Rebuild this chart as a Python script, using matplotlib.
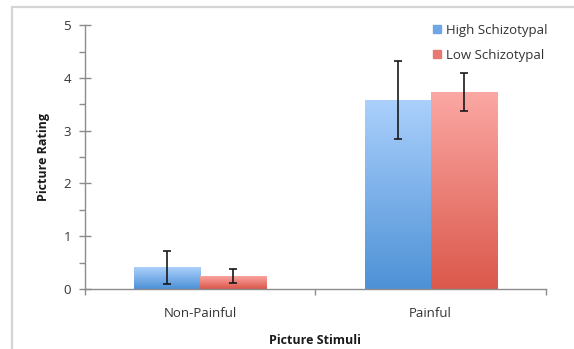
import numpy as np
import matplotlib.pyplot as plt
from matplotlib.patches import Rectangle
from matplotlib.colors import LinearSegmentedColormap

plt.rcParams['font.family'] = ['Open Sans', 'DejaVu Sans']

# Data
categories = ['Non-Painful', 'Painful']
groups = ['High Schizotypal', 'Low Schizotypal']
high_means = [0.41, 3.58]
high_err = [0.31, 0.74]
low_means = [0.25, 3.74]
low_err = [0.13, 0.36]

# Gradient colours (top, bottom)
grad = {'High Schizotypal': ('#abd0fc', '#4d91d6'),
        'Low Schizotypal': ('#fba8a4', '#db584b')}
legend_col = {'High Schizotypal': '#6fa6e6', 'Low Schizotypal': '#e97872'}

fig = plt.figure(figsize=(5.74, 3.49), dpi=100)
ax = fig.add_axes([0.148, 0.172, 0.803, 0.756])

# Outer chart frame
fig.patches.append(Rectangle((0.021, -0.1), 1.2, 1.08, transform=fig.transFigure,
                             fill=False, edgecolor='#d4d4d4', linewidth=1.6))

x = np.arange(len(categories))
w = 0.287
gradient = np.linspace(0, 1, 256).reshape(-1, 1)

for off, name, means, errs in [(-w / 2, groups[0], high_means, high_err),
                               (w / 2, groups[1], low_means, low_err)]:
    cmap = LinearSegmentedColormap.from_list(name, [grad[name][1], grad[name][0]])
    bars = ax.bar(x + off, means, w, color=legend_col[name], label=name,
                  edgecolor='none', zorder=2)
    for b in bars:
        b.set_facecolor('none')
        x0, y0 = b.get_x(), b.get_y()
        im = ax.imshow(gradient, cmap=cmap, aspect='auto', origin='lower',
                       extent=[x0, x0 + b.get_width(), y0, y0 + b.get_height()],
                       zorder=2)
        im.set_clip_path(b)
    ax.errorbar(x + off, means, yerr=errs, fmt='none', ecolor='#1a1a1a',
                elinewidth=1.2, capsize=3, capthick=1.2, zorder=3)

ax.set_xlim(-0.5, 1.5)
ax.set_ylim(0, 5)
ax.set_yticks(range(6))
ax.set_yticks(np.arange(0.5, 5, 1.0), minor=True)
ax.set_xticks([-0.5, 0.5, 1.5])
ax.set_xticklabels([])
ax.set_xticks(x, minor=True)
ax.set_xticklabels(categories, minor=True)

for s in ['top', 'right']:
    ax.spines[s].set_visible(False)
for s in ['left', 'bottom']:
    ax.spines[s].set_color('#8c8c8c')
    ax.spines[s].set_linewidth(1.0)

ax.tick_params(axis='y', which='major', direction='inout', length=8, width=1,
               color='#8c8c8c', labelsize=9.5, labelcolor='#333333', pad=6)
ax.tick_params(axis='y', which='minor', direction='out', length=4, width=1,
               color='#8c8c8c')
ax.tick_params(axis='x', which='major', direction='out', length=4, width=1,
               color='#8c8c8c')
ax.tick_params(axis='x', which='minor', length=0, labelsize=9.5,
               labelcolor='#333333', pad=13)

ax.set_ylabel('Picture Rating', fontsize=9, fontweight='bold', color='#1a1a1a',
              labelpad=10)
ax.set_xlabel('Picture Stimuli', fontsize=9, fontweight='bold', color='#1a1a1a',
              labelpad=10)

handles = [Rectangle((0, 0), 1, 1, color=legend_col[g]) for g in groups]
leg = ax.legend(handles, groups, loc='upper right', frameon=False, fontsize=9.5,
                handlelength=0.6, handleheight=0.6, handletextpad=0.4,
                labelspacing=0.9, bbox_to_anchor=(1.03, 1.05))
for t in leg.get_texts():
    t.set_color('#333333')

fig.savefig('out.png', dpi=100)
